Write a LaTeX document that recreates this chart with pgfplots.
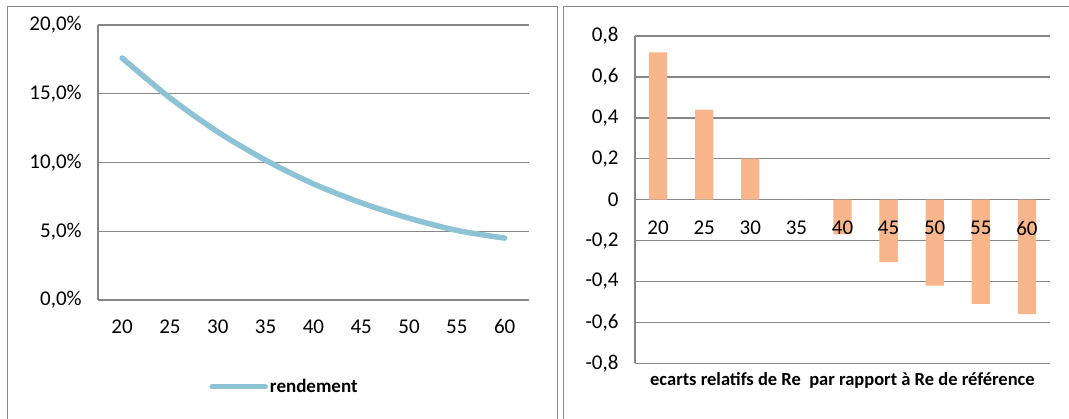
\documentclass[border=0pt]{standalone}
\usepackage{pgfplots}
\pgfplotsset{compat=1.18}
\usepackage{fontspec}
\setmainfont{Carlito}

\definecolor{gridgray}{HTML}{868686}
\definecolor{framegray}{HTML}{8A8A8A}
\definecolor{rendblue}{HTML}{8EC3D5}
\definecolor{barpeach}{HTML}{F9B68D}

\pgfplotsset{
  panel/.style={
    scale only axis,
    xmin=-0.5, xmax=8.5,
    xtick={0,...,8},
    xticklabels={20,25,30,35,40,45,50,55,60},
    axis y line*=left,
    axis line style={gridgray, line width=1.5pt},
    ymajorgrids,
    grid style={gridgray, line width=1.5pt},
    major tick length=0pt,
    tick label style={font=\fontsize{21}{25}\selectfont, text=black},
    yticklabel style={xshift=-13pt},
  },
}

\begin{document}
\begin{tikzpicture}

% yield curve
\begin{axis}[
  panel,
  at={(98.2pt,118pt)}, anchor=south west,
  width=430.4pt, height=275pt,
  ymin=0, ymax=20,
  ytick={0,5,10,15,20},
  yticklabels={{0,0\%},{5,0\%},{10,0\%},{15,0\%},{20,0\%}},
  axis x line*=bottom,
  xticklabel style={yshift=-16pt},
  legend style={at={(axis description cs:0.433,-0.315)}, anchor=center,
    draw=none, fill=none, font=\bfseries\fontsize{19}{22}\selectfont},
  legend image code/.code={\draw[#1, line cap=round] (0pt,0pt) -- (53pt,0pt);},
]
\addplot[rendblue, line width=5.5pt, line cap=round, smooth] coordinates {
  (0,17.6) (1,14.7) (2,12.23) (3,10.17) (4,8.45) (5,7.07) (6,5.95) (7,5.06) (8,4.5)
};
\addlegendentry{rendement}
\end{axis}

% relative deviations: bars, grid and y axis
\begin{axis}[
  panel,
  at={(635pt,54.7pt)}, anchor=south west,
  width=415pt, height=327.3pt,
  ybar, bar width=18.3pt,
  ymin=-0.8, ymax=0.8,
  ytick={-0.8,-0.6,-0.4,-0.2,0,0.2,0.4,0.6,0.8},
  yticklabels={{-0,8},{-0,6},{-0,4},{-0,2},0,{0,2},{0,4},{0,6},{0,8}},
  xtick=\empty,
  axis x line*=middle,
  xlabel={ecarts relatifs de Re~~par rapport à Re de référence},
  xlabel style={at={(axis description cs:0.5,-0.051)}, anchor=center,
    font=\bfseries\fontsize{18.5}{22}\selectfont},
]
\addplot[fill=barpeach, draw=none] coordinates {
  (0,0.72) (1,0.44) (2,0.20) (3,0) (4,-0.17) (5,-0.305) (6,-0.42) (7,-0.51) (8,-0.56)
};
\end{axis}

% category labels along the zero line, set over the bars
\begin{axis}[
  scale only axis,
  at={(635pt,54.7pt)}, anchor=south west,
  width=415pt, height=327.3pt,
  xmin=-0.5, xmax=8.5, ymin=-0.8, ymax=0.8,
  xtick={0,...,8},
  xticklabels={20,25,30,35,40,45,50,55,60},
  axis x line*=middle,
  x axis line style={draw=none},
  hide y axis,
  major tick length=0pt,
  tick label style={font=\fontsize{21}{25}\selectfont, text=black},
  xticklabel style={yshift=-18pt},
]
\end{axis}

% panel frames
\draw[framegray, line width=1.5pt] (7.3pt,-5pt) -- (7.3pt,411.3pt) -- (557.3pt,411.3pt) -- (557.3pt,-5pt);
\draw[framegray, line width=1.5pt] (563.3pt,-5pt) -- (563.3pt,411.3pt) -- (1075pt,411.3pt);

\pgfresetboundingbox
\useasboundingbox (0pt,0pt) rectangle (1069pt,418pt);
\end{tikzpicture}
\end{document}
